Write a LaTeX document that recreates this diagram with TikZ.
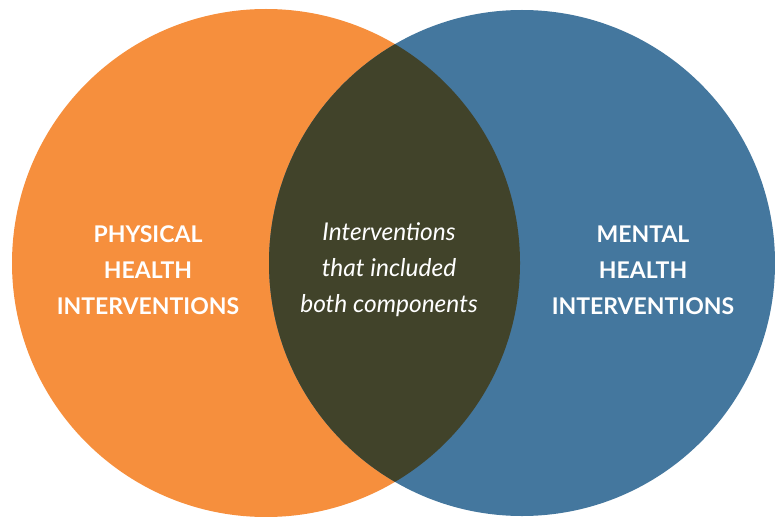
\documentclass[tikz,border=0pt]{standalone}
\usepackage{fontspec}
\setmainfont{Lato}
\usepackage{tikz}

\definecolor{physorange}{HTML}{F68F3D}
\definecolor{mentblue}{HTML}{44779E}
\definecolor{bothdark}{HTML}{41432A}

\tikzset{
  biglabel/.style={text=white, align=center, font=\fontsize{23}{36}\selectfont\bfseries},
  midlabel/.style={text=white, align=center, font=\fontsize{24.5}{36}\selectfont\itshape}
}

\begin{document}
\begin{tikzpicture}[x=1pt, y=-1pt]
 \useasboundingbox (0,0) rectangle (775,516);

 % the two sets
 \fill[physorange] (266,263) circle (254);
 \fill[mentblue] (522,263) circle (253);
 \begin{scope}
  \clip (266,263) circle (254);
  \fill[bothdark] (522,263) circle (253);
 \end{scope}

 \node[biglabel] (phys) at (148,270) {PHYSICAL\\HEALTH\\INTERVENTIONS};
 \node[midlabel] (both) at (389,270) {Interventions\\that included\\both components};
 \node[biglabel] (ment) at (643,270) {MENTAL\\HEALTH\\INTERVENTIONS};
\end{tikzpicture}
\end{document}
